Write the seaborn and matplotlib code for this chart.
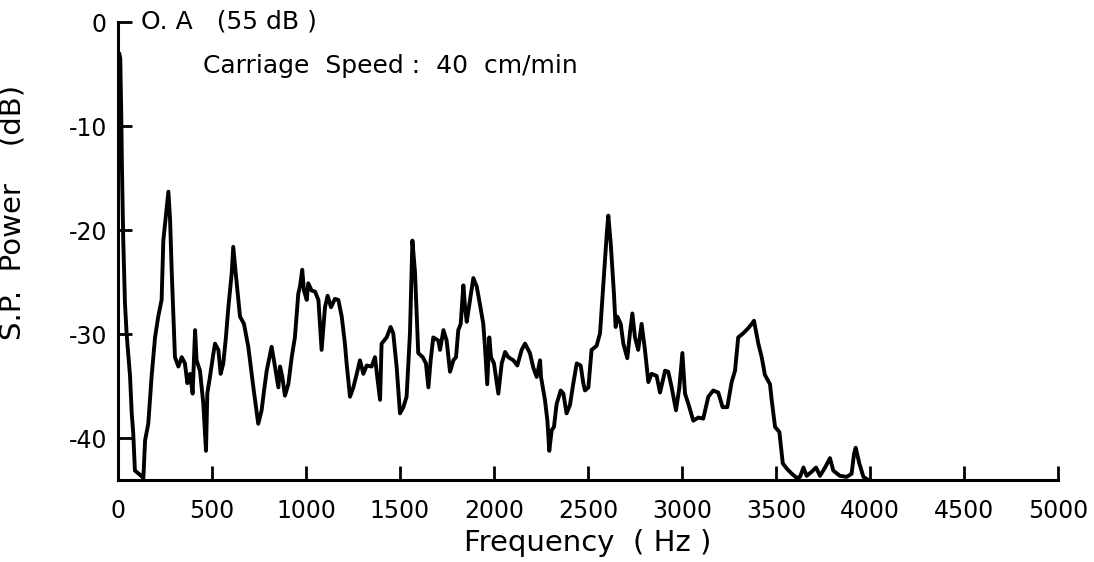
import matplotlib
matplotlib.use("Agg")
import matplotlib.pyplot as plt
import seaborn as sns
import pandas as pd

freq = [0, 6, 12, 17, 21, 28, 37, 46, 64, 73, 81, 90, 117, 135, 144, 161, 170, 179, 188, 197,
        214, 232, 241, 259, 268, 277, 286, 303, 321, 339, 356, 369, 383, 397, 410, 418, 436, 454,
        468, 475, 489, 507, 516, 534, 546, 560, 574, 587, 605, 613, 626, 649, 670, 693, 720, 746,
        764, 777, 791, 817, 835, 853, 862, 874, 888, 906, 924, 941, 959, 968, 980, 989, 1004, 1012,
        1030, 1048, 1066, 1083, 1101, 1115, 1133, 1154, 1172, 1190, 1207, 1216, 1234, 1252, 1270,
        1287, 1305, 1323, 1349, 1367, 1379, 1394, 1402, 1429, 1450, 1464, 1482, 1500, 1518, 1535,
        1553, 1566, 1580, 1597, 1621, 1638, 1651, 1663, 1677, 1704, 1713, 1731, 1748, 1766, 1784,
        1798, 1810, 1823, 1837, 1846, 1855, 1869, 1890, 1908, 1926, 1943, 1952, 1964, 1975, 1984,
        2000, 2023, 2041, 2059, 2076, 2103, 2124, 2147, 2165, 2191, 2209, 2227, 2245, 2250, 2271,
        2284, 2294, 2307, 2319, 2333, 2355, 2369, 2386, 2404, 2422, 2440, 2461, 2475, 2484, 2502,
        2519, 2546, 2564, 2582, 2600, 2608, 2621, 2638, 2647, 2656, 2674, 2688, 2709, 2723, 2736,
        2750, 2767, 2785, 2803, 2821, 2838, 2865, 2883, 2910, 2927, 2945, 2968, 2986, 3002, 3016,
        3034, 3060, 3087, 3113, 3140, 3166, 3193, 3216, 3241, 3264, 3282, 3299, 3326, 3353, 3371,
        3383, 3406, 3424, 3441, 3468, 3477, 3495, 3518, 3536, 3557, 3584, 3610, 3628, 3646, 3663,
        3690, 3713, 3734, 3761, 3787, 3805, 3840, 3876, 3902, 3915, 3924, 3943, 3965, 3991, 4010]

power = [-6, -3, -3.5, -8.5, -14, -21, -27, -30, -34, -37.6, -39.5, -43.1, -43.5, -43.8, -40.2,
         -38.6, -36.3, -34, -32.2, -30.3, -28.3, -26.7, -21, -17.8, -16.3, -19, -24.1, -32.2,
         -33.1, -32.2, -32.8, -34.7, -33.8, -35.7, -29.6, -32.5, -33.5, -36.7, -41.2, -35.7,
         -34.1, -31.9, -30.9, -31.5, -33.8, -32.8, -30.3, -27.4, -24.1, -21.6, -24.1, -28.3,
         -29, -31.2, -35.1, -38.6, -37.3, -35.4, -33.5, -31.2, -33.1, -35.1, -33.1, -34.1,
         -35.9, -34.8, -32.2, -30.3, -26.1, -25.4, -23.8, -25.8, -26.7, -25.1, -25.8, -25.9,
         -26.7, -31.5, -27.4, -26.3, -27.4, -26.6, -26.7, -28.3, -30.9, -32.8, -36, -35.1,
         -33.8, -32.5, -33.8, -33, -33.1, -32.2, -34.1, -36.3, -30.9, -30.3, -29.3, -29.9,
         -33.1, -37.6, -37, -36, -29.9, -21, -24.1, -31.8, -32.2, -32.8, -35.1, -32.5, -30.3,
         -30.6, -31.5, -29.6, -30.6, -33.6, -32.5, -32.2, -29.6, -29, -25.3, -27.4, -28.8,
         -27.1, -24.6, -25.4, -27.2, -29, -31.2, -34.8, -30.3, -32.2, -32.8, -35.7, -32.8,
         -31.7, -32.2, -32.5, -33, -31.5, -30.9, -31.8, -33.2, -34.1, -32.5, -34.1, -36.3,
         -38.3, -41.2, -39.2, -38.9, -36.7, -35.4, -35.7, -37.6, -36.8, -34.7, -32.8, -33,
         -34.7, -35.4, -35.1, -31.5, -31.1, -29.9, -25.1, -20.3, -18.6, -21.3, -26.1, -29.3,
         -28.3, -29, -30.9, -32.3, -29.9, -28, -30.3, -31.5, -29, -31.5, -34.6, -33.8, -34,
         -35.6, -33.5, -33.6, -35.1, -37.3, -35.1, -31.8, -35.7, -36.7, -38.3, -38, -38.1,
         -36, -35.4, -35.6, -37, -37, -34.6, -33.5, -30.3, -29.9, -29.4, -29, -28.7, -30.9,
         -32.2, -33.9, -34.8, -36.3, -38.9, -39.4, -42.4, -42.9, -43.4, -43.8, -43.7, -42.8,
         -43.6, -43.2, -42.8, -43.6, -42.8, -41.9, -43.1, -43.6, -43.7, -43.4, -41.5, -40.9,
         -42.4, -43.7, -44, -44.5]

x_ticks = [0, 500, 1000, 1500, 2000, 2500, 3000, 3500, 4000, 4500, 5000]
y_ticks = [0, -10, -20, -30, -40]
y_ticklabels = ["0", "-10", "-20", "-30", "-40"]

sns.set_theme(style="ticks")
plt.rcParams['font.family'] = ['DejaVu Sans']
plt.rcParams['text.color'] = 'black'
plt.rcParams['axes.labelcolor'] = 'black'

fig = plt.figure(figsize=(10.94, 5.62), dpi=100)
ax = fig.add_axes([118 / 1094, 1 - 480 / 562, (1058 - 118) / 1094, (480 - 22) / 562])

df = pd.DataFrame({"Frequency": freq, "Power": power})
sns.lineplot(data=df, x="Frequency", y="Power", ax=ax, color="black", linewidth=2.8,
             sort=False, estimator=None)

ax.set_xlim(0, 5000)
ax.set_ylim(-44, 0)
ax.set_xticks(x_ticks)
ax.set_xticklabels([str(t) for t in x_ticks], fontsize=17)
ax.set_yticks(y_ticks)
ax.set_yticklabels(y_ticklabels, fontsize=17)
ax.tick_params(axis="both", direction="in", length=10, width=2.0, colors="black",
               labelcolor="black")
ax.tick_params(axis="x", pad=14)
ax.tick_params(axis="y", pad=8)

for side in ["top", "right"]:
    ax.spines[side].set_visible(False)
for side in ["left", "bottom"]:
    ax.spines[side].set_linewidth(2.2)
    ax.spines[side].set_color("black")

ax.set_xlabel("Frequency  ( Hz )", fontsize=21, labelpad=4, color="black")
ax.set_ylabel("S.P.  Power    (dB)", fontsize=21, labelpad=10, color="black")
ax.yaxis.set_label_coords(-0.097, 0.585)

ax.text(0.024, 1.0, "O. A   (55 dB )", transform=ax.transAxes, fontsize=18,
        va="center", ha="left", color="black")
ax.text(0.09, 0.905, "Carriage  Speed :  40  cm/min", transform=ax.transAxes, fontsize=18,
        va="center", ha="left", color="black")

fig.savefig("out.png", dpi=100, facecolor="white")
